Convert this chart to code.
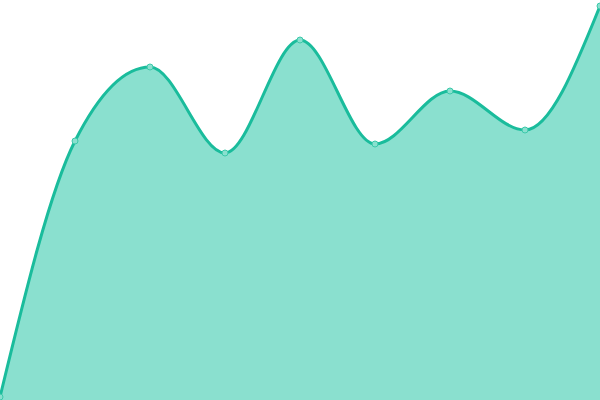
<!DOCTYPE html>
<html>
<head>
<meta charset="utf-8">
<script src="https://cdn.jsdelivr.net/npm/d3@7"></script>
<style>
  body { margin: 0; background: #fff; }
  svg { display: block; }
</style>
</head>
<body>
<div id="chart"></div>
<script>
// data
var indices = [0, 1, 2, 3, 4, 5, 6, 7, 8];
var values = [3, 259, 333, 247, 360, 256, 309, 270, 394];

var chart_width = 600;
var chart_height = 400;

var svg = d3
  .select("#chart")
  .append("svg")
  .attr("width", chart_width)
  .attr("height", chart_height);

var x_scale = d3
  .scaleLinear()
  .domain([0, indices.length - 1])
  .range([0, chart_width]);

var y_scale = d3
  .scaleLinear()
  .domain([0, 400])
  .range([chart_height, 0]);

var points = indices.map(function(d, i) {
  return { i: d, v: values[i] };
});

var area = d3
  .area()
  .curve(d3.curveMonotoneX)
  .x(function(d) { return x_scale(d.i); })
  .y0(chart_height)
  .y1(function(d) { return y_scale(d.v); });

var line = d3
  .line()
  .curve(d3.curveMonotoneX)
  .x(function(d) { return x_scale(d.i); })
  .y(function(d) { return y_scale(d.v); });

svg
  .append("path")
  .datum(points)
  .attr("d", area)
  .attr("fill", "#8ae0cf");

svg
  .append("path")
  .datum(points)
  .attr("d", line)
  .attr("fill", "none")
  .attr("stroke", "#1abc9c")
  .attr("stroke-width", 3);

svg
  .selectAll("circle")
  .data(points)
  .enter()
  .append("circle")
  .attr("cx", function(d) { return x_scale(d.i); })
  .attr("cy", function(d) { return y_scale(d.v); })
  .attr("r", 3)
  .attr("fill", "#8ae0cf")
  .attr("stroke", "#3cc9aa")
  .attr("stroke-width", 1);
</script>
</body>
</html>
